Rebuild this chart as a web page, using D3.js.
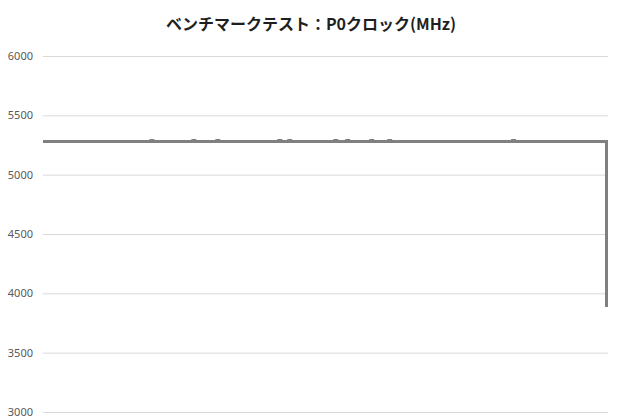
<!DOCTYPE html>
<html>
<head>
<meta charset="utf-8">
<script src="https://cdn.jsdelivr.net/npm/d3@7"></script>
<style>
  body { margin: 0; background: #fff; }
  svg { display: block; }
</style>
</head>
<body>
<div id="chart-area"></div>
<script>
var title = "ベンチマークテスト：P0クロック(MHz)";

var yTicks = [3000, 3500, 4000, 4500, 5000, 5500, 6000];

// P0 clock samples (MHz)
var clock = [
  5280,5280,5280,5280,5280,5280,5280,5280,5280,5280,5280,5280,5280,5280,5280,5280,5280,5280,5280,5280,
  5280,5280,5280,5280,5280,5280,5280,5280,5280,5280,5280,5280,5280,5280,5280,5280,5280,5280,5280,5280,
  5280,5280,5280,5280,5280,5280,5280,5280,5280,5280,5280,5280,5280,5280,5287,5280,5280,5280,5280,5280,
  5280,5280,5280,5280,5280,5280,5280,5280,5280,5280,5280,5280,5280,5280,5280,5287,5280,5280,5280,5280,
  5280,5280,5280,5280,5280,5280,5280,5287,5280,5280,5280,5280,5280,5280,5280,5280,5280,5280,5280,5280,
  5280,5280,5280,5280,5280,5280,5280,5280,5280,5280,5280,5280,5280,5280,5280,5280,5280,5280,5287,5280,
  5280,5280,5280,5287,5280,5280,5280,5280,5280,5280,5280,5280,5280,5280,5280,5280,5280,5280,5280,5280,
  5280,5280,5280,5280,5280,5280,5287,5280,5280,5280,5280,5280,5287,5280,5280,5280,5280,5280,5280,5280,
  5280,5280,5280,5280,5287,5280,5280,5280,5280,5280,5280,5280,5280,5287,5280,5280,5280,5280,5280,5280,
  5280,5280,5280,5280,5280,5280,5280,5280,5280,5280,5280,5280,5280,5280,5280,5280,5280,5280,5280,5280,
  5280,5280,5280,5280,5280,5280,5280,5280,5280,5280,5280,5280,5280,5280,5280,5280,5280,5280,5280,5280,
  5280,5280,5280,5280,5280,5280,5280,5280,5280,5280,5280,5280,5280,5280,5280,5287,5280,5280,5280,5280,
  5280,5280,5280,5280,5280,5280,5280,5280,5280,5280,5280,5280,5280,5280,5280,5280,5280,5280,5280,5280,
  5280,5280,5280,5280,5280,5280,5280,5280,5280,5280,5280,5280,5280,5280,5280,5280,5280,5280,5280,5280,
  5280,5280,3885
];

var margin = { left: 43, right: 12, top: 56, bottom: 8 };
var width = 620 - margin.left - margin.right,
    height = 420 - margin.top - margin.bottom;

var svg = d3.select("#chart-area")
  .append("svg")
    .attr("width", 620)
    .attr("height", 420);

svg.append("text")
  .attr("x", 311)
  .attr("y", 30)
  .attr("text-anchor", "middle")
  .attr("font-family", "'Noto Sans CJK JP', 'Noto Sans', sans-serif")
  .attr("font-weight", "bold")
  .attr("font-size", "16px")
  .attr("fill", "#1f1f1f")
  .text(title);

var g = svg.append("g")
  .attr("transform", "translate(" + margin.left + ", " + margin.top + ")");

var x = d3.scaleLinear()
  .domain([0, clock.length - 1])
  .range([0, width - 1.5]);

var y = d3.scaleLinear()
  .domain([3000, 6000])
  .range([356, 0]);

// grid lines + labels
var yAxis = d3.axisLeft(y)
  .tickValues(yTicks)
  .tickSize(-width)
  .tickPadding(10)
  .tickFormat(d3.format("d"));

var ya = g.append("g")
  .attr("class", "y axis")
  .call(yAxis);

ya.select(".domain").remove();
ya.selectAll(".tick line")
  .attr("stroke", "#d9d9d9")
  .attr("stroke-width", 1);
ya.selectAll(".tick text")
  .attr("fill", "#595959")
  .attr("font-family", "'Noto Sans', sans-serif")
  .attr("font-size", "11px");

// samples held until the next one, so the last drop is straight down
var line = d3.line()
  .curve(d3.curveStepAfter)
  .x(function(d, i) { return x(i); })
  .y(function(d) { return y(d); });

g.append("path")
  .datum(clock)
  .attr("d", line)
  .attr("fill", "none")
  .attr("stroke", "#808080")
  .attr("stroke-width", 3)
  .attr("stroke-linejoin", "miter");
</script>
</body>
</html>
